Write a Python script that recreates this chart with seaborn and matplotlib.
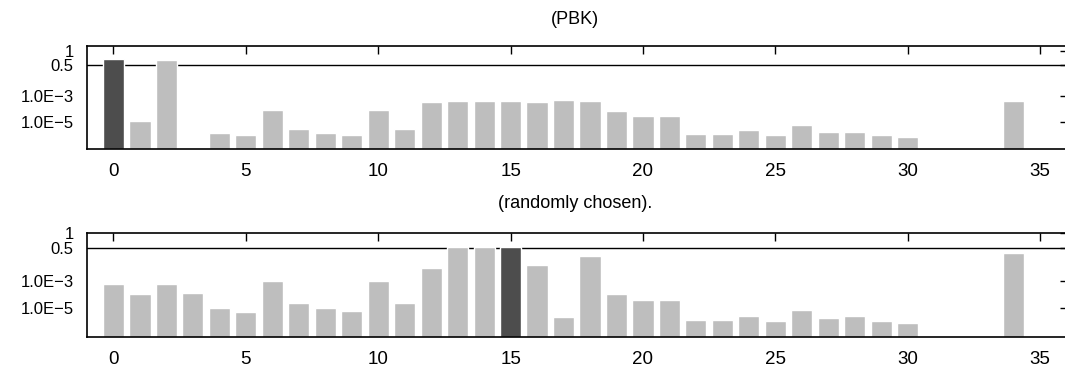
import matplotlib
matplotlib.use('Agg')
import matplotlib.pyplot as plt
import seaborn as sns
import numpy as np
import pandas as pd

nan = np.nan

# bar positions and values for the two panels
positions = list(range(35))
pbk_values = [0.66, 1.2e-5, 0.63, nan, 1.4e-6, 9.6e-7, 9.6e-5, 2.8e-6, 1.4e-6, 9.6e-7,
              9.6e-5, 2.8e-6, 3.5e-4, 4.7e-4, 4.7e-4, 4.7e-4, 4.0e-4, 5.6e-4, 4.7e-4, 8.0e-5,
              2.8e-5, 2.8e-5, 1.15e-6, 1.15e-6, 2.3e-6, 9.6e-7, 6.6e-6, 1.6e-6, 1.9e-6, 9.6e-7,
              6.7e-7, nan, nan, nan, 4.7e-4]
random_values = [5.8e-4, 1.07e-4, 5.8e-4, 1.26e-4, 1.0e-5, 5.1e-6, 1.15e-3, 2.3e-5, 1.0e-5, 6.0e-6,
                 1.15e-3, 2.3e-5, 0.0125, 0.52, 0.52, 0.52, 0.022, 2.2e-6, 0.115, 1.07e-4,
                 3.9e-5, 3.9e-5, 1.3e-6, 1.3e-6, 2.6e-6, 1.1e-6, 7.2e-6, 1.9e-6, 2.6e-6, 1.1e-6,
                 8.0e-7, nan, nan, nan, 0.2]
pbk_selected = 0
random_selected = 15
titles = ['(PBK)', '(randomly chosen).']
ytick_values = [1e-5, 1e-3, 0.5, 1]
ytick_labels = ['1.0E\u22125', '1.0E\u22123', '0.5', '1']

# piecewise log axis, as in the original plot
log_anchors = [-7.1, -5, -3, np.log10(0.5), 0, 0.1]
pos_anchors = [0.0, 0.262, 0.512, 0.82, 0.955, 1.0]


def fwd(v):
    v = np.asarray(v, dtype=float)
    return np.interp(np.log10(np.maximum(v, 1e-30)), log_anchors, pos_anchors)


def inv(u):
    return 10 ** np.interp(np.asarray(u, dtype=float), pos_anchors, log_anchors)


sns.set_style('white')
plt.rcParams['font.family'] = ['Liberation Sans', 'DejaVu Sans']
plt.rcParams['text.color'] = 'black'
plt.rcParams['xtick.color'] = 'black'
plt.rcParams['ytick.color'] = 'black'

fig = plt.figure(figsize=(10.65, 3.71), dpi=100)
W, H = 1065, 371
ax1 = fig.add_axes([87 / W, 1 - 149.3 / H, 979.5 / W, 103.3 / H])
ax2 = fig.add_axes([87 / W, 1 - 336.7 / H, 979.5 / W, 103.4 / H])

panels = [(ax1, pbk_values, pbk_selected, 10 ** 0.1),
          (ax2, random_values, random_selected, 1.0)]

for ax, vals, sel, ytop in panels:
    ax.set_yscale('function', functions=(fwd, inv))
    df = pd.DataFrame({'pos': positions, 'val': vals})
    df['sel'] = df['pos'] == sel
    sns.barplot(data=df, x='pos', y='val', hue='sel', native_scale=True,
                palette={False: '#bebebe', True: '#4d4d4d'}, dodge=False,
                width=0.8, saturation=1, legend=False, ax=ax, zorder=2)
    ax.axhline(0.5, color='black', lw=1, zorder=1)
    ax.set_xlim(-1, 36)
    ax.set_ylim(10 ** -7.1, ytop)
    ax.set_xticks(range(0, 36, 5))
    ax.set_xticklabels([str(t) for t in range(0, 36, 5)], fontsize=13.5)
    ax.set_yticks(ytick_values)
    ax.set_yticklabels(ytick_labels, fontsize=12)
    ax.minorticks_off()
    ax.tick_params(axis='x', direction='in', length=6, width=1, top=True, pad=10)
    ax.tick_params(axis='y', direction='in', length=5, width=1, right=True, pad=9.5)
    ax.set_xlabel('')
    ax.set_ylabel('')
    for s in ax.spines.values():
        s.set_color('black')
        s.set_linewidth(1.2)

fig.text(575 / W, 1 - 20 / H, titles[0], ha='center', va='center', fontsize=13)
fig.text(575 / W, 1 - 203 / H, titles[1], ha='center', va='center', fontsize=13)

fig.savefig('out.png', dpi=100)
